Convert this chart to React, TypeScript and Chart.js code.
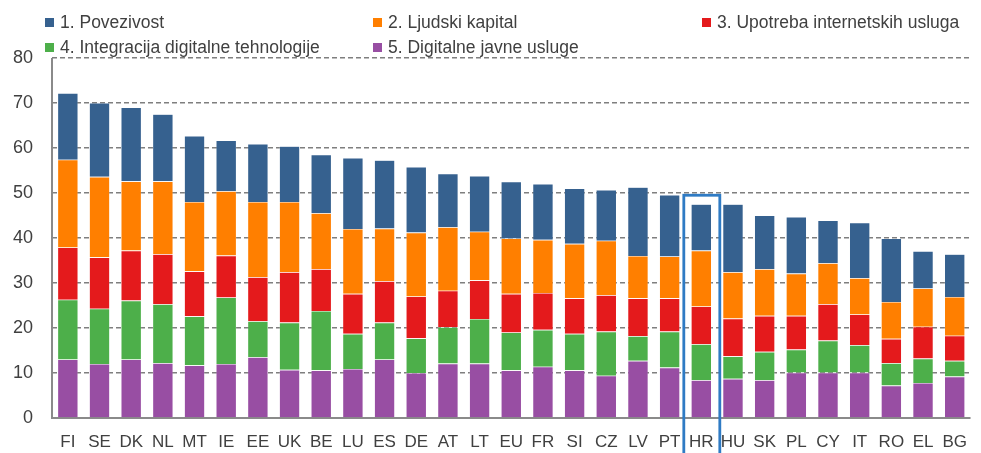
import React, { useEffect, useRef } from "react";
import { Chart, registerables } from "chart.js";

Chart.register(...registerables);

const categories = ["FI","SE","DK","NL","MT","IE","EE","UK","BE","LU","ES","DE","AT","LT","EU","FR","SI","CZ","LV","PT","HR","HU","SK","PL","CY","IT","RO","EL","BG"];

const digitalneJavneUsluge = [13.0,12.0,13.0,12.2,11.7,12.0,13.5,10.7,10.6,10.9,13.0,10.0,12.1,12.1,10.6,11.4,10.6,9.4,12.7,11.2,8.4,8.7,8.4,10.1,10.1,10.1,7.2,7.8,9.2];
const integracija = [13.3,12.3,13.1,13.1,10.9,14.8,8.0,10.5,13.2,7.8,8.2,7.7,8.1,9.9,8.4,8.2,8.1,9.8,5.5,8.0,8.0,5.0,6.3,5.1,7.1,6.1,5.0,5.4,3.5];
const upotreba = [11.6,11.4,11.1,11.1,10.0,9.3,9.8,11.2,9.3,8.9,9.2,9.3,8.1,8.6,8.6,8.2,7.9,8.1,8.4,7.4,8.4,8.4,8.0,7.5,8.1,6.8,5.4,7.1,5.6];
const ljudskiKapital = [19.5,17.9,15.4,16.2,15.4,14.3,16.7,15.6,12.4,14.4,11.7,14.2,14.1,10.8,12.3,11.8,12.1,12.1,9.4,9.3,12.4,10.3,10.4,9.4,9.1,8.1,8.2,8.5,8.6];
const povezivost = [14.8,16.4,16.4,14.9,14.7,11.3,12.9,12.4,13.0,15.8,15.2,14.6,11.9,12.4,12.6,12.4,12.3,11.3,15.3,13.7,10.3,15.1,11.9,12.6,9.5,12.3,14.1,8.3,9.5];

const highlighted = "HR";

const legendItems = [
  { label: "1. Povezivost", color: "#36618F", left: 45, top: 22 },
  { label: "2. Ljudski kapital", color: "#FF7F00", left: 373, top: 22 },
  { label: "3. Upotreba internetskih usluga", color: "#E41A1C", left: 702, top: 22 },
  { label: "4. Integracija digitalne tehnologije", color: "#4DAF4A", left: 45, top: 47 },
  { label: "5. Digitalne javne usluge", color: "#984EA3", left: 373, top: 47 },
];

const axesPlugin = {
  id: "axesLines",
  beforeDatasetsDraw(chart: any) {
    const { ctx, chartArea } = chart;
    ctx.save();
    ctx.strokeStyle = "#8a8a8a";
    ctx.lineWidth = 2;
    ctx.setLineDash([]);
    ctx.beginPath();
    ctx.moveTo(chartArea.left, chartArea.top);
    ctx.lineTo(chartArea.left, chartArea.bottom);
    ctx.lineTo(chartArea.right, chartArea.bottom);
    ctx.stroke();
    ctx.restore();
  },
  afterDraw(chart: any) {
    const { ctx } = chart;
    const xs = chart.scales.x;
    const ys = chart.scales.y;
    const idx = categories.indexOf(highlighted);
    const cx = xs.getPixelForValue(idx);
    const total =
      digitalneJavneUsluge[idx] + integracija[idx] + upotreba[idx] + ljudskiKapital[idx] + povezivost[idx];
    const top = ys.getPixelForValue(total) - 9;
    ctx.save();
    ctx.strokeStyle = "#2F7BC4";
    ctx.lineWidth = 2.8;
    ctx.strokeRect(cx - 17.5, top, 36, chart.height - top + 5);
    ctx.restore();
  },
};

export default function App() {
  const ref = useRef<HTMLCanvasElement>(null);
  useEffect(() => {
    if (!ref.current) return;
    const mk = (label: string, data: number[], color: string) => ({
      label,
      data,
      backgroundColor: color,
      borderColor: "rgba(255,255,255,0.35)",
      borderWidth: 0.6,
    });
    const chart = new Chart(ref.current, {
      type: "bar",
      data: {
        labels: categories,
        datasets: [
          mk("5. Digitalne javne usluge", digitalneJavneUsluge, "#984EA3"),
          mk("4. Integracija digitalne tehnologije", integracija, "#4DAF4A"),
          mk("3. Upotreba internetskih usluga", upotreba, "#E41A1C"),
          mk("2. Ljudski kapital", ljudskiKapital, "#FF7F00"),
          mk("1. Povezivost", povezivost, "#36618F"),
        ],
      },
      options: {
        animation: false,
        responsive: false,
        maintainAspectRatio: false,
        layout: { padding: { top: 58, right: 1, left: 0, bottom: 0 } },
        plugins: { legend: { display: false }, tooltip: { enabled: false } },
        datasets: { bar: { categoryPercentage: 0.65, barPercentage: 1 } },
        scales: {
          x: {
            stacked: true,
            grid: { display: false, drawTicks: false },
            border: { display: false },
            ticks: {
              color: "#404040",
              font: { family: "Liberation Sans, Arial, sans-serif", size: 17 },
              padding: 14,
              maxRotation: 0,
              autoSkip: false,
            },
            afterFit(scale: any) {
              scale.height = 35;
            },
          },
          y: {
            stacked: true,
            min: 0,
            max: 80,
            grid: { color: "#7f7f7f", lineWidth: 1.4, drawTicks: false },
            border: { display: false, dash: [5, 3] },
            ticks: {
              stepSize: 10,
              color: "#404040",
              font: { family: "Liberation Sans, Arial, sans-serif", size: 18 },
              padding: 19,
            },
            afterFit(scale: any) {
              scale.width = 52;
            },
          },
        },
      },
      plugins: [axesPlugin],
    } as any);
    return () => chart.destroy();
  }, []);

  return (
    <div style={{ position: "fixed", left: 0, top: 0, width: 981, height: 453, background: "#fff", overflow: "hidden" }}>
      <canvas ref={ref} width={981} height={453} style={{ position: "absolute", left: 0, top: 0, width: 981, height: 453 }} />
      {legendItems.map((it) => (
        <div
          key={it.label}
          style={{
            position: "absolute",
            left: it.left,
            top: it.top - 10,
            height: 20,
            display: "flex",
            alignItems: "center",
            whiteSpace: "nowrap",
            fontFamily: "'Liberation Sans', Arial, sans-serif",
            fontSize: 17.5,
            color: "#404040",
          }}
        >
          <span style={{ display: "inline-block", width: 9, height: 9, background: it.color, marginRight: 6 }} />
          <span>{it.label}</span>
        </div>
      ))}
    </div>
  );
}
